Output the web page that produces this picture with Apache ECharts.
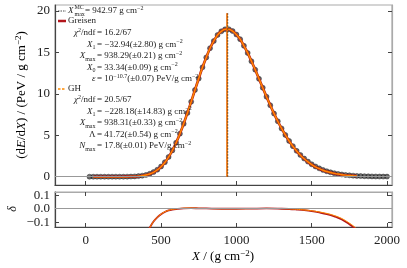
<!DOCTYPE html>
<html><head><meta charset="utf-8">
<script src="https://cdn.jsdelivr.net/npm/echarts@6/dist/echarts.min.js"></script>
<style>html,body{margin:0;padding:0;background:#fff}#c{width:407px;height:268px}</style>
</head><body><div id="c"></div>
<script>
// ---- data ----
const depths = [25,50,75,100,125,150,175,200,225,250,275,300,325,350,375,400,425,450,475,500,
525,550,575,600,625,650,675,700,725,750,775,800,825,850,875,900,925,950,975,1000,
1025,1050,1075,1100,1125,1150,1175,1200,1225,1250,1275,1300,1325,1350,1375,1400,1425,1450,1475,1500,
1525,1550,1575,1600,1625,1650,1675,1700,1725,1750,1775,1800,1825,1850,1875,1900,1925,1950,1975,2000];
const mcDeposit = [0,0,0,0,0,0,0,0.001,0.002,0.004,0.009,0.019,0.037,0.071,0.127,0.218,0.355,0.559,0.844,1.234,
1.742,2.383,3.173,4.101,5.183,6.370,7.686,9.037,10.46,11.83,13.19,14.38,15.49,16.36,17.09,17.53,17.77,17.78,17.56,17.14,
16.58,15.78,14.92,13.92,12.90,11.80,10.73,9.641,8.612,7.609,6.687,5.819,5.038,4.319,3.685,3.116,2.622,2.189,1.820,1.501,
1.233,1.005,0.817,0.659,0.529,0.422,0.336,0.266,0.209,0.164,0.128,0.099,0.077,0.059,0.045,0.035,0.026,0.020,0.016,0.012];
const fitDepths = [50,75,100,125,150,175,200,225,250,275,300,325,350,375,400,425,450,475,500,
525,550,575,600,625,650,675,700,725,750,775,800,825,850,875,900,925,950,975,1000,
1025,1050,1075,1100,1125,1150,1175,1200,1225,1250,1275,1300,1325,1350,1375,1400,1425,1450,1475,1500,
1525,1550,1575,1600,1625,1650,1675,1700,1725,1750,1775,1800];
const greisenFit = [0,0,0,0,0,0,0.001,0.002,0.004,0.008,0.017,0.033,0.064,0.115,0.200,0.330,0.525,0.810,1.200,
1.710,2.360,3.160,4.095,5.185,6.375,7.692,9.042,10.46,11.83,13.19,14.38,15.49,16.36,17.09,17.53,17.77,17.78,17.56,17.14,
16.58,15.78,14.92,13.92,12.90,11.80,10.73,9.645,8.615,7.610,6.685,5.815,5.030,4.305,3.665,3.090,2.590,2.150,1.775,1.455,
1.185,0.960,0.775,0.620,0.495,0.392,0.305,0.240,0.184,0.140,0.108,0.082];
const ghFit = [0,0,0,0,0,0,0.001,0.002,0.004,0.008,0.017,0.033,0.064,0.115,0.200,0.330,0.526,0.812,1.201,
1.711,2.361,3.161,4.096,5.186,6.376,7.692,9.042,10.46,11.83,13.19,14.38,15.49,16.36,17.09,17.53,17.77,17.78,17.56,17.14,
16.58,15.78,14.92,13.92,12.90,11.80,10.73,9.645,8.615,7.610,6.686,5.816,5.032,4.308,3.669,3.095,2.597,2.158,1.784,1.465,
1.195,0.970,0.785,0.630,0.503,0.400,0.313,0.246,0.190,0.145,0.112,0.085];
const deltaDepths = [400,425,450,475,500,525,550,575,600,650,700,750,800,900,1000,1100,1200,1300,1350,1400,1450,1500,1550,1600,1650,1700,1750,1775,1800];
const greisenDelta = [-0.19,-0.14,-0.095,-0.064,-0.041,-0.024,-0.013,-0.006,-0.002,0.003,0.004,0.003,0.002,0.000,0.000,0.001,0.002,0.000,-0.002,-0.006,-0.011,-0.018,-0.028,-0.040,-0.057,-0.080,-0.115,-0.135,-0.16];
const ghDelta = [-0.19,-0.14,-0.095,-0.063,-0.040,-0.023,-0.012,-0.005,-0.001,0.004,0.005,0.003,0.002,0.000,0.000,0.001,0.002,0.001,-0.001,-0.004,-0.009,-0.015,-0.024,-0.035,-0.051,-0.073,-0.107,-0.127,-0.15];
const xmaxMC = 942.97, xmaxGreisen = 938.29, xmaxGH = 938.31, vlineTop = 19.7;
const xTicks = [0,500,1000,1500,2000];
const yTicks = [0,5,10,15,20];
const dTicks = [-0.1,0,0.1];

// ---- chart ----
const F = "'Liberation Serif','DejaVu Serif',serif";
const DARK = '#444', LIGHT = '#aaa';
const RED = '#b3161c', ORANGE = '#ff8a00';
const zip = (a,b) => a.map((v,i)=>[v,b[i]]);
const chart = echarts.init(document.getElementById('c'), null, {renderer:'canvas'});

const fs = 9, ss = 6;
const rich = {
  n:{fontFamily:F,fontSize:fs,lineHeight:12,verticalAlign:'middle',color:'#222'},
  i:{fontFamily:F,fontSize:fs,fontStyle:'italic',lineHeight:12,verticalAlign:'middle',color:'#222'},
  b:{fontFamily:F,fontSize:ss,lineHeight:5,verticalAlign:'bottom',color:'#222'},
  p:{fontFamily:F,fontSize:ss,lineHeight:5,verticalAlign:'top',color:'#222'}
};
function T(x,y,text,align){
  return {type:'text',x:x,y:y,z:100,style:{text:text,rich:rich,fontFamily:F,fontSize:fs,fill:'#222',verticalAlign:'middle',align:align||'left'}};
}
const EQ = 97;
function L(y,lhs,rhs){ return [T(EQ-1.5,y,lhs,'right'), T(EQ,y,rhs,'left')]; }
const gcm = '{n|g cm}{p|−2}';
const graphic = [
  {type:'line',z:100,shape:{x1:58,y1:11,x2:66,y2:11},style:{stroke:'#222',lineWidth:0.8,lineDash:[1.5,1]}},
  T(68,11,'{i|X}'),
  {type:'text',x:74.5,y:7.5,z:100,style:{text:'MC',fontFamily:F,fontSize:ss,fill:'#222',verticalAlign:'middle'}},
  {type:'text',x:74.5,y:14.5,z:100,style:{text:'max',fontFamily:F,fontSize:ss,fill:'#222',verticalAlign:'middle'}},
  T(85,11,'{n|= 942.97 }'+gcm),
  {type:'line',z:100,shape:{x1:58,y1:21,x2:66,y2:21},style:{stroke:RED,lineWidth:2.5}},
  T(68,21,'{n|Greisen}'),
  ...L(33,'{i|χ}{p|2}{n|/ndf}','{n|= 16.2/67}'),
  ...L(44.5,'{i|X}{b|1}','{n|= −32.94(±2.80) }'+gcm),
  ...L(56,'{i|X}{b|max}','{n|= 938.29(±0.21) }'+gcm),
  ...L(67.5,'{i|X}{b|0}','{n|= 33.34(±0.09) }'+gcm),
  ...L(79,'{i|ε}','{n|= 10}{p|−10.7}{n|(±0.07) PeV/}'+gcm),
  {type:'line',z:100,shape:{x1:58,y1:89,x2:66,y2:89},style:{stroke:ORANGE,lineWidth:1.5,lineDash:[2.5,1.5]}},
  T(68,89,'{n|GH}'),
  ...L(100,'{i|χ}{p|2}{n|/ndf}','{n|= 20.5/67}'),
  ...L(111.5,'{i|X}{b|1}','{n|= −228.18(±14.83) }'+gcm),
  ...L(123,'{i|X}{b|max}','{n|= 938.31(±0.33) }'+gcm),
  ...L(134.5,'{n|Λ}','{n|= 41.72(±0.54) }'+gcm),
  ...L(146,'{i|N}{b|max}','{n|= 17.8(±0.01) PeV/}'+gcm),
  // axis titles
  {type:'text',x:22,y:95,rotation:Math.PI/2,z:100,style:{text:'{a|(d}{ai|E}{a|/d}{ai|X}{a|) / (PeV / g cm}{ap|−2}{a|)}',
    rich:{a:{fontFamily:F,fontSize:13,lineHeight:16,verticalAlign:'middle',color:'#222'},
          ai:{fontFamily:F,fontSize:13,fontStyle:'italic',lineHeight:16,verticalAlign:'middle',color:'#222'},
          ap:{fontFamily:F,fontSize:9,lineHeight:8,verticalAlign:'top',color:'#222'}},
    align:'center',verticalAlign:'middle'}},
  {type:'text',x:13,y:209,rotation:Math.PI/2,z:100,style:{text:'δ',fontFamily:F,fontSize:12,fontStyle:'italic',fill:'#222',align:'center',verticalAlign:'middle'}},
  {type:'text',x:223,y:257,z:100,style:{text:'{ai|X}{a| / (g cm}{ap|−2}{a|)}',
    rich:{a:{fontFamily:F,fontSize:13,lineHeight:16,verticalAlign:'middle',color:'#222'},
          ai:{fontFamily:F,fontSize:13,fontStyle:'italic',lineHeight:16,verticalAlign:'middle',color:'#222'},
          ap:{fontFamily:F,fontSize:9,lineHeight:8,verticalAlign:'top',color:'#222'}},
    align:'center',verticalAlign:'middle'}}
];

const XMIN = -204, XMAX = 2033;
const lbl = {fontFamily:F,fontSize:13,color:'#222'};
function xAx(grid, pos, labels, lineColor){
  return {type:'value',gridIndex:grid,position:pos,min:XMIN,max:XMAX,
    axisLine:{show:true,onZero:false,lineStyle:{color:lineColor,width:1.2}},
    axisTick:{show:true,inside:true,length:4,customValues:xTicks,lineStyle:{color:DARK,width:1}},
    axisLabel:{show:labels,customValues:xTicks,margin:7,...lbl,formatter:(v)=>String(v)},
    splitLine:{show:false}};
}
function yAx(grid,pos,min,max,ticks,labels,lineColor,labTicks){
  return {type:'value',gridIndex:grid,position:pos,min:min,max:max,
    axisLine:{show:true,onZero:false,lineStyle:{color:lineColor,width:1.2}},
    axisTick:{show:true,inside:true,length:4,customValues:ticks,lineStyle:{color:DARK,width:1}},
    axisLabel:{show:labels,customValues:labTicks||ticks,margin:5,...lbl,
      formatter:(v)=> grid===1 ? (Math.abs(v)<1e-9?'0.0':v.toFixed(1).replace('-','−')) : String(v)},
    splitLine:{show:false}};
}

const option = {
  animation:false,
  backgroundColor:'#fff',
  grid:[{left:55,top:5,width:337,height:180,show:true,borderColor:LIGHT,borderWidth:1.2},
        {left:55,top:192,width:337,height:35,show:true,borderColor:LIGHT,borderWidth:1.2}],
  xAxis:[xAx(0,'bottom',false,DARK), xAx(1,'bottom',true,DARK), xAx(1,'top',false,LIGHT)],
  yAxis:[yAx(0,'left',-1,20.7,yTicks,true,DARK), yAx(0,'right',-1,20.7,yTicks,false,LIGHT),
         yAx(1,'left',-0.136,0.1245,[-0.1,0.1],true,DARK,dTicks), yAx(1,'right',-0.136,0.1245,[-0.1,0.1],false,LIGHT)],
  graphic:graphic,
  series:[
    {type:'scatter',xAxisIndex:0,yAxisIndex:0,data:zip(depths,mcDeposit),symbolSize:5,z:2,
      itemStyle:{color:'rgba(40,40,40,0.85)',borderColor:'#111',borderWidth:0.5},
      markLine:{silent:true,symbol:'none',label:{show:false},lineStyle:{color:'#999',width:1.2,type:'solid'},data:[{yAxis:0}]}},
    {type:'line',xAxisIndex:0,yAxisIndex:0,data:zip(fitDepths,greisenFit),showSymbol:false,smooth:0.3,z:3,
      lineStyle:{color:RED,width:2.6}},
    {type:'line',xAxisIndex:0,yAxisIndex:0,data:zip(fitDepths,ghFit),showSymbol:false,smooth:0.3,z:4,
      lineStyle:{color:ORANGE,width:1.5}},
    {type:'line',xAxisIndex:0,yAxisIndex:0,data:[[xmaxGreisen,0],[xmaxGreisen,vlineTop]],showSymbol:false,z:5,
      lineStyle:{color:RED,width:1.2}},
    {type:'line',xAxisIndex:0,yAxisIndex:0,data:[[xmaxGH,0],[xmaxGH,vlineTop]],showSymbol:false,z:6,
      lineStyle:{color:ORANGE,width:1.4}},
    {type:'line',xAxisIndex:0,yAxisIndex:0,data:[[xmaxMC,0],[xmaxMC,vlineTop]],showSymbol:false,z:7,
      lineStyle:{color:'#222',width:0.7,type:[1.5,1.5]}},
    {type:'line',xAxisIndex:1,yAxisIndex:2,data:zip(deltaDepths,greisenDelta),showSymbol:false,smooth:0.4,z:3,
      lineStyle:{color:RED,width:1.8},
      markLine:{silent:true,symbol:'none',label:{show:false},lineStyle:{color:'#999',width:1.2,type:'solid'},data:[{yAxis:0}]}},
    {type:'line',xAxisIndex:1,yAxisIndex:2,data:zip(deltaDepths,ghDelta),showSymbol:false,smooth:0.4,z:4,
      lineStyle:{color:ORANGE,width:1}}
  ]
};
chart.setOption(option);
</script></body></html>
